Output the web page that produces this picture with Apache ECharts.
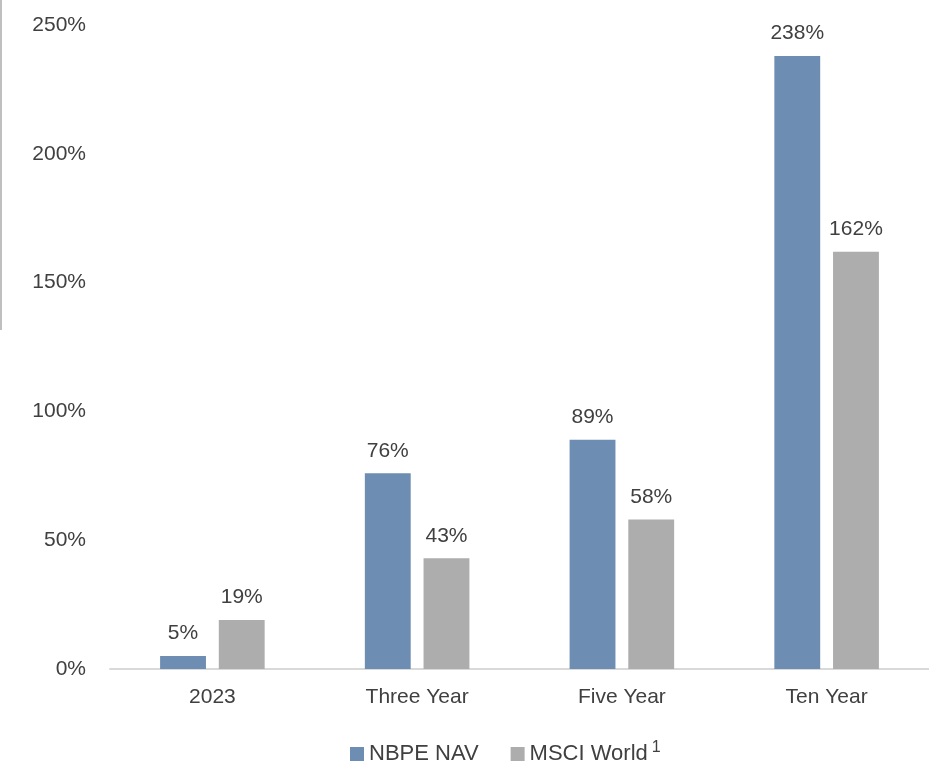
<!DOCTYPE html>
<html>
<head>
<meta charset="utf-8">
<script src="https://cdn.jsdelivr.net/npm/echarts@6/dist/echarts.min.js"></script>
<style>
  html, body { margin: 0; padding: 0; background: #fff; }
  #chart { width: 929px; height: 767px; }
</style>
</head>
<body>
<div id="chart"></div>
<script>
var categories = ['2023', 'Three Year', 'Five Year', 'Ten Year'];
var nbpeNav = [5, 76, 89, 238];
var msciWorld = [19, 43, 58, 162];
var yTicks = [0, 50, 100, 150, 200, 250];

(function() {
    var myChart = echarts.init(document.getElementById('chart'));
    var font = '"Liberation Sans", Arial, sans-serif';
    var textColor = '#404040';
    var fs = 21;
    var option = {
        animation: false,
        textStyle: { fontFamily: font },
        grid: { left: 110, right: 0, top: 25, bottom: 98 },
        legend: {
            top: 735,
            left: 345,
            itemWidth: 14,
            itemHeight: 14,
            itemGap: 32,
            icon: 'rect',
            textStyle: {
                fontSize: 22,
                color: textColor,
                fontFamily: font,
                rich: {
                    sup: { fontSize: 16, verticalAlign: 'top', padding: [0, 0, 12, 4], color: textColor, fontFamily: font }
                }
            },
            formatter: function(name) {
                return name === 'MSCI World' ? name + '{sup|1}' : name;
            },
            data: ['NBPE NAV', 'MSCI World']
        },
        graphic: [{
            type: 'line',
            shape: { x1: 1, y1: 0, x2: 1, y2: 330 },
            style: { stroke: '#BFBFBF', lineWidth: 2 }
        }],
        xAxis: {
            type: 'category',
            data: categories,
            axisLine: { lineStyle: { color: '#D9D9D9', width: 2 } },
            axisTick: { show: false },
            axisLabel: { fontSize: fs, color: textColor, margin: 18 }
        },
        yAxis: {
            type: 'value',
            min: yTicks[0],
            max: yTicks[yTicks.length - 1],
            interval: 50,
            splitLine: { show: false },
            axisLine: { show: false },
            axisTick: { show: false },
            axisLabel: {
                fontSize: fs,
                color: textColor,
                margin: 24,
                formatter: '{value}%'
            }
        },
        series: [{
            name: 'NBPE NAV',
            type: 'bar',
            data: nbpeNav,
            barWidth: '22.4%',
            barGap: '28%',
            itemStyle: { color: '#6E8DB3' },
            label: { show: true, position: 'top', distance: 12, fontSize: fs, color: textColor, formatter: '{c}%' }
        }, {
            name: 'MSCI World',
            type: 'bar',
            data: msciWorld,
            barWidth: '22.4%',
            itemStyle: { color: '#ADADAD' },
            label: { show: true, position: 'top', distance: 12, fontSize: fs, color: textColor, formatter: '{c}%' }
        }]
    };
    myChart.setOption(option);
})();
</script>
</body>
</html>
